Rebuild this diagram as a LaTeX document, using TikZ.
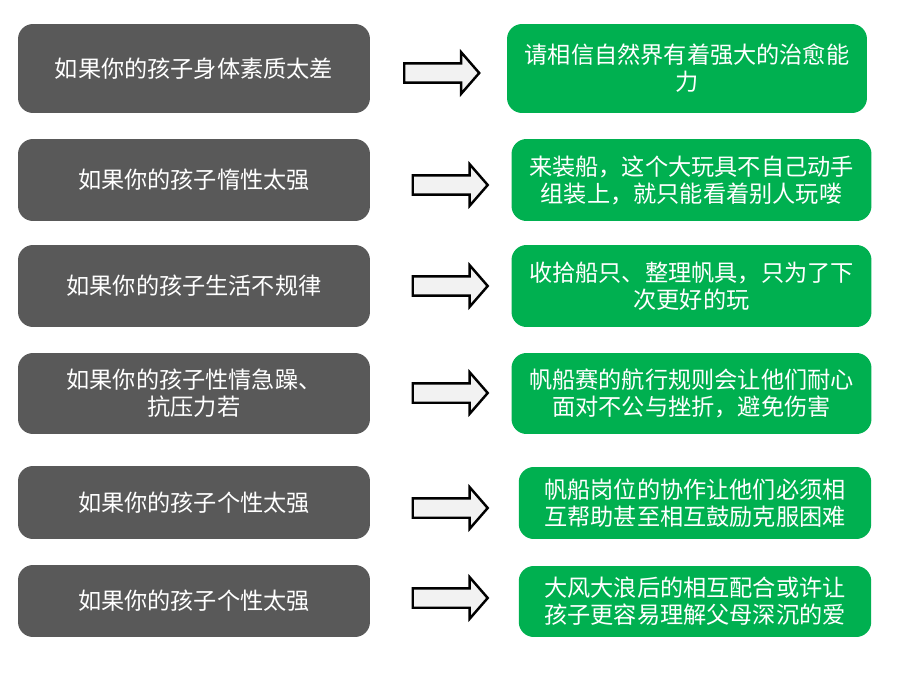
\documentclass[tikz,border=0pt]{standalone}
\usepackage{xcolor}
\usepackage{fontspec}
\usetikzlibrary{shapes.arrows, positioning}
\newfontfamily\cjk{Noto Sans CJK SC}
\definecolor{boxgray}{HTML}{595959}
\definecolor{boxgreen}{HTML}{00B050}
\definecolor{arrowfill}{HTML}{F2F2F2}

\begin{document}
\begin{tikzpicture}[
  x=0.02cm, y=-0.02cm,
  problem/.style={rectangle, rounded corners=0.3cm, fill=boxgray, text=white, inner sep=0pt, minimum width=7.04cm, align=center, font=\cjk\fontsize{13.2pt}{15.4pt}\selectfont},
  remedy/.style={rectangle, rounded corners=0.3cm, fill=boxgreen, text=white, inner sep=0pt, minimum width=7.2cm, align=center, font=\cjk\fontsize{13.2pt}{15.4pt}\selectfont},
  bigarrow/.style={single arrow, draw=black, line width=1.4pt, fill=arrowfill, inner xsep=0pt, inner ysep=0.17cm, anchor=tail, minimum height=1.5cm, minimum width=0.78cm, single arrow head extend=0.22cm, single arrow tip angle=98},
]
\useasboundingbox (0,0) rectangle (904,676);

% Problems
\node[problem, minimum height=1.78cm] (p1) at (194,68.5) {如果你的孩子身体素质太差};
\node[problem, minimum height=1.64cm] (p2) at (194,180) {如果你的孩子惰性太强};
\node[problem, minimum height=1.64cm] (p3) at (194,286) {如果你的孩子生活不规律};
\node[problem, minimum height=1.62cm] (p4) at (194,393.5) {如果你的孩子性情急躁、\\抗压力若};
\node[problem, minimum height=1.46cm] (p5) at (194,502.5) {如果你的孩子个性太强};
\node[problem, minimum height=1.44cm] (p6) at (194,601) {如果你的孩子个性太强};

% Remedies
\node[remedy, minimum height=1.78cm] (r1) at (687,68.5) {请相信自然界有着强大的治愈能\\力};
\node[remedy, minimum height=1.64cm] (r2) at (691.5,180) {来装船，这个大玩具不自己动手\\组装上，就只能看着别人玩喽};
\node[remedy, minimum height=1.64cm] (r3) at (691.5,286) {收拾船只、整理帆具，只为了下\\次更好的玩};
\node[remedy, minimum height=1.62cm] (r4) at (691.5,393.5) {帆船赛的航行规则会让他们耐心\\面对不公与挫折，避免伤害};
\node[remedy, minimum height=1.44cm, minimum width=7.05cm] (r5) at (695,503) {帆船岗位的协作让他们必须相\\互帮助甚至相互鼓励克服困难};
\node[remedy, minimum height=1.42cm, minimum width=7.05cm] (r6) at (695,601.5) {大风大浪后的相互配合或许让\\孩子更容易理解父母深沉的爱};

% Arrows
\node[bigarrow] (a1) at (403,73) {};
\node[bigarrow] (a2) at (411.5,185) {};
\node[bigarrow] (a3) at (411.5,286) {};
\node[bigarrow] (a4) at (411.5,393) {};
\node[bigarrow] (a5) at (411.5,508) {};
\node[bigarrow] (a6) at (411.5,598) {};

\end{tikzpicture}
\end{document}
